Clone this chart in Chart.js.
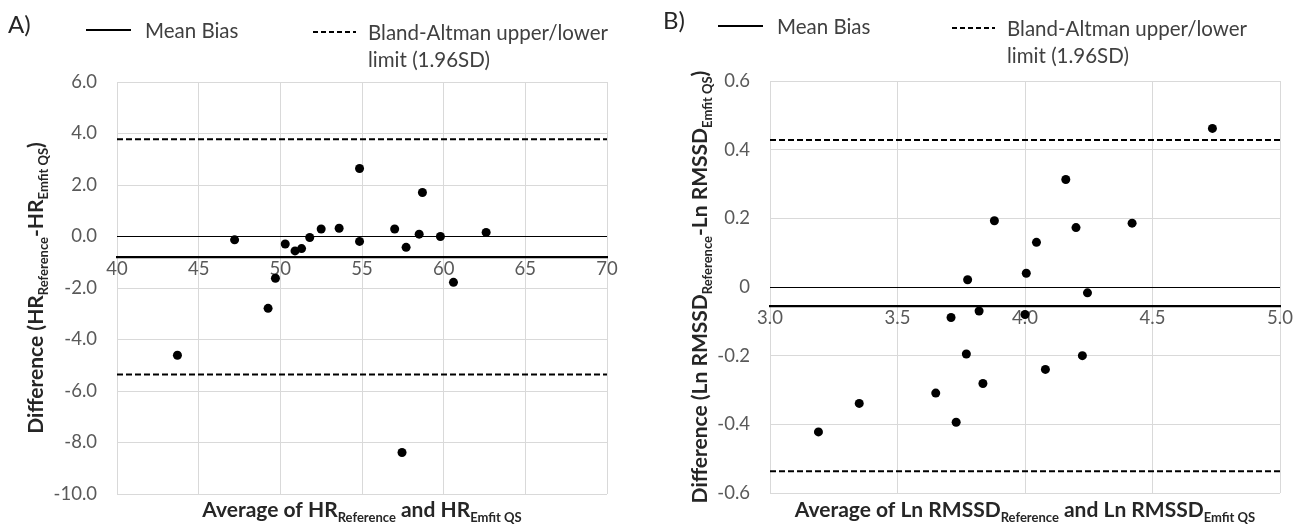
<!DOCTYPE html>
<html>
<head>
<meta charset="utf-8">
<script src="https://cdn.jsdelivr.net/npm/chart.js@4.4.1/dist/chart.umd.min.js"></script>
<style>
    html, body { margin: 0; padding: 0; background: #fff; }
    .wrap { display: flex; width: 1305px; height: 530px; }
    canvas { display: block; }
</style>
</head>
<body>
<div class="wrap">
    <canvas id="chartA" width="650" height="530"></canvas>
    <canvas id="chartB" width="655" height="530"></canvas>
</div>
<script>
// Panel A - heart rate
const hrAverage = [43.7, 47.2, 49.25, 49.7, 50.3, 50.9, 51.3, 51.8, 52.5, 53.6, 54.85, 54.85, 57.0, 57.45, 57.7, 58.5, 58.7, 59.8, 60.6, 62.6];
const hrDifference = [-4.61, -0.13, -2.79, -1.62, -0.29, -0.56, -0.47, -0.04, 0.29, 0.32, 2.64, -0.19, 0.29, -8.39, -0.42, 0.09, 1.71, 0.0, -1.78, 0.16];
const hrMeanBias = -0.79;
const hrUpperLimit = 3.78;
const hrLowerLimit = -5.36;
const hrXTicks = [40, 70, 5];      // min, max, step
const hrYTicks = [-10, 6, 2];

// Panel B - ln RMSSD
const lnAverage = [3.19, 3.35, 3.65, 3.71, 3.73, 3.77, 3.775, 3.82, 3.835, 3.88, 4.0, 4.005, 4.045, 4.08, 4.16, 4.2, 4.225, 4.245, 4.42, 4.735];
const lnDifference = [-0.422, -0.339, -0.309, -0.089, -0.394, -0.195, 0.021, -0.07, -0.281, 0.193, -0.08, 0.04, 0.13, -0.24, 0.313, 0.173, -0.2, -0.017, 0.186, 0.462];
const lnMeanBias = -0.055;
const lnUpperLimit = 0.428;
const lnLowerLimit = -0.537;
const lnXTicks = [3.0, 5.0, 0.5];
const lnYTicks = [-0.6, 0.6, 0.2];

const legendMean = 'Mean Bias';
const legendLimits = ['Bland-Altman upper/lower', 'limit (1.96SD)'];

const FONT = 'Lato, "Noto Sans", sans-serif';
const GRID = '#d9d9d9';

// draws text with subscript parts, centred on (x, y) baseline
function drawRich(ctx, parts, x, y, rotate) {
    const mainFont = 'bold 21px ' + FONT;
    const subFont = 'bold 13px ' + FONT;
    let total = 0;
    parts.forEach(p => {
        ctx.font = p[1] ? subFont : mainFont;
        total += ctx.measureText(p[0]).width;
    });
    ctx.save();
    ctx.translate(x, y);
    if (rotate) ctx.rotate(-Math.PI / 2);
    ctx.textAlign = 'left';
    ctx.textBaseline = 'alphabetic';
    ctx.fillStyle = '#262626';
    let cx = -total / 2;
    parts.forEach(p => {
        ctx.font = p[1] ? subFont : mainFont;
        ctx.fillText(p[0], cx, p[1] ? 5 : 0);
        cx += ctx.measureText(p[0]).width;
    });
    ctx.restore();
}

const panelText = {
    id: 'panelText',
    afterDraw(chart, args, o) {
        const ctx = chart.ctx;
        const area = chart.chartArea;
        ctx.save();
        ctx.textBaseline = 'middle';
        ctx.textAlign = 'left';

        ctx.fillStyle = '#262626';
        ctx.font = '24px ' + FONT;
        ctx.fillText(o.label, o.labelX, o.legendY - 6);

        ctx.strokeStyle = '#000';
        ctx.lineWidth = 2;
        ctx.beginPath();
        ctx.moveTo(o.solidX, o.legendY - 1);
        ctx.lineTo(o.solidX + 45, o.legendY - 1);
        ctx.stroke();

        ctx.setLineDash([5, 3]);
        ctx.beginPath();
        ctx.moveTo(o.dashX, o.legendY + 1);
        ctx.lineTo(o.dashX + 43, o.legendY + 1);
        ctx.stroke();
        ctx.setLineDash([]);

        ctx.fillStyle = '#404040';
        ctx.font = '20.5px ' + FONT;
        ctx.fillText(legendMean, o.solidX + 59, o.legendY);
        ctx.fillText(legendLimits[0], o.dashX + 55, o.legendY + 2);
        ctx.fillText(legendLimits[1], o.dashX + 55, o.legendY + 29);
        ctx.restore();

        const midY = (area.top + area.bottom) / 2;
        const midX = (area.left + area.right) / 2;
        drawRich(ctx, o.yTitle, o.yTitleX, midY, true);
        drawRich(ctx, o.xTitle, midX, 517, false);
    }
};

function makeChart(id, xs, ys, mean, upper, lower, xTicks, yTicks, opts) {
    const points = xs.map((x, i) => ({ x: x, y: ys[i] }));
    const limitLine = v => [{ x: xTicks[0], y: v }, { x: xTicks[1], y: v }];
    const lineStyle = {
        type: 'line',
        showLine: true,
        pointRadius: 0,
        borderColor: '#000',
        borderWidth: 2,
        borderDash: [6, 3],
        fill: false
    };

    return new Chart(document.getElementById(id), {
        type: 'scatter',
        data: {
            datasets: [
                { ...lineStyle, label: 'upper', data: limitLine(upper) },
                { ...lineStyle, label: 'lower', data: limitLine(lower) },
                {
                    label: 'diff',
                    data: points,
                    pointRadius: 4.5,
                    pointBorderWidth: 0,
                    pointBackgroundColor: '#000'
                }
            ]
        },
        options: {
            responsive: false,
            animation: false,
            layout: { padding: { top: opts.top, bottom: 530 - opts.bottom, right: opts.right, left: 0 } },
            plugins: {
                legend: { display: false },
                tooltip: { enabled: false },
                panelText: opts.text
            },
            scales: {
                x: {
                    type: 'linear',
                    position: { y: mean },
                    min: xTicks[0],
                    max: xTicks[1],
                    afterFit: s => { s.height = 0; },
                    grid: { color: GRID, lineWidth: 1, drawTicks: false },
                    border: { display: true, color: '#000', width: 2.3 },
                    ticks: {
                        stepSize: xTicks[2],
                        padding: 1,
                        color: '#595959',
                        font: { family: FONT, size: 18.5 },
                        callback: v => opts.xFmt(v)
                    }
                },
                y: {
                    type: 'linear',
                    min: yTicks[0],
                    max: yTicks[1],
                    afterFit: s => { s.width = opts.left; },
                    grid: {
                        drawTicks: false,
                        lineWidth: 1,
                        color: c => Math.abs(c.tick.value) < 1e-9 ? '#000' : GRID
                    },
                    border: { display: false },
                    ticks: {
                        stepSize: yTicks[2],
                        padding: 20,
                        color: '#595959',
                        font: { family: FONT, size: 18.5 },
                        callback: v => opts.yFmt(v)
                    }
                }
            }
        },
        plugins: [panelText]
    });
}

makeChart('chartA', hrAverage, hrDifference, hrMeanBias, hrUpperLimit, hrLowerLimit, hrXTicks, hrYTicks, {
    left: 117, right: 43, top: 82, bottom: 494,
    xFmt: v => String(v),
    yFmt: v => v.toFixed(1),
    text: {
        label: 'A)', labelX: 8, legendY: 31, solidX: 86, dashX: 313, yTitleX: 43,
        yTitle: [['Difference (HR', 0], ['Reference', 1], ['-HR', 0], ['Emfit QS', 1], [')', 0]],
        xTitle: [['Average of HR', 0], ['Reference', 1], [' and HR', 0], ['Emfit QS', 1]]
    }
});

makeChart('chartB', lnAverage, lnDifference, lnMeanBias, lnUpperLimit, lnLowerLimit, lnXTicks, lnYTicks, {
    left: 120, right: 25, top: 81, bottom: 493,
    xFmt: v => v.toFixed(1),
    yFmt: v => Math.abs(v) < 1e-9 ? '0' : v.toFixed(1),
    text: {
        label: 'B)', labelX: 13, legendY: 27, solidX: 68, dashX: 302, yTitleX: 57,
        yTitle: [['Difference (Ln RMSSD', 0], ['Reference', 1], ['-Ln RMSSD', 0], ['Emfit QS', 1], [')', 0]],
        xTitle: [['Average of Ln RMSSD', 0], ['Reference', 1], [' and Ln RMSSD', 0], ['Emfit QS', 1]]
    }
});
</script>
</body>
</html>
